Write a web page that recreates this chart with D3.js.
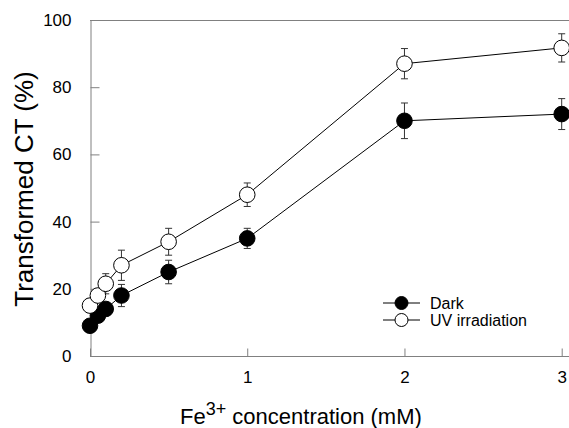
<!DOCTYPE html>
<meta charset="utf-8">
<head>
  <title>Transformed CT vs Fe3+ concentration</title>
</head>
<style>
body { margin: 0; background: #fff; }
text { font-family: "Liberation Sans", Arial, sans-serif; fill: #000; }
.axis path, .axis line { stroke: #808080; }
</style>
<body>
<svg width="569" height="428"></svg>
<script src="https://cdnjs.cloudflare.com/ajax/libs/d3/7.8.5/d3.min.js"></script>
<script>
var width = 569, height = 428

// data
var conc = [0, 0.05, 0.1, 0.2, 0.5, 1, 2, 3]
var dark = [9, 12, 14, 18, 25, 35, 70, 72]
var darkErr = [1.5, 1.5, 2, 3.3, 3.5, 3, 5.3, 4.6]
var uv = [15, 18, 21.5, 27, 34, 48, 87, 91.7]
var uvErr = [2, 2, 3, 4.5, 4, 3.5, 4.5, 4.2]
var xTicks = [0, 1, 2, 3]
var yTicks = [0, 20, 40, 60, 80, 100]

var series = [
  {name: 'Dark', y: dark, err: darkErr, fill: '#000'},
  {name: 'UV irradiation', y: uv, err: uvErr, fill: '#fff'}
]

var mLeft = 90, mRight = 561.7, mTop = 20, mBottom = 356

var x = d3.scaleLinear().domain([0, 3]).range([mLeft, mRight])
var y = d3.scaleLinear().domain([0, 100]).range([mBottom, mTop])

var svg = d3.select('svg')

// top frame line
svg.append('line')
  .attr('x1', mLeft).attr('x2', width)
  .attr('y1', mTop + 0.5).attr('y2', mTop + 0.5)
  .attr('stroke', '#808080')

var xAxis = svg.append('g')
  .attr('class', 'axis')
  .attr('transform', 'translate(0,' + (mBottom + 0.5) + ')')
  .call(d3.axisBottom(x).tickValues(xTicks).tickFormat(d3.format('d'))
    .tickSize(-8).tickSizeOuter(0).tickPadding(14))
xAxis.select('.domain').attr('d', 'M' + mLeft + ',0H' + width)
xAxis.selectAll('text').attr('font-size', 17).attr('font-family', '"Liberation Sans", Arial, sans-serif')

var yAxis = svg.append('g')
  .attr('class', 'axis')
  .attr('transform', 'translate(' + (mLeft + 0.5) + ',0)')
  .call(d3.axisLeft(y).tickValues(yTicks).tickFormat(d3.format('d'))
    .tickSize(-9).tickSizeOuter(0).tickPadding(19))
yAxis.selectAll('text').attr('font-size', 17).attr('font-family', '"Liberation Sans", Arial, sans-serif')

var line = d3.line()
  .x(function(d) { return x(d.x) })
  .y(function(d) { return y(d.y) })

series.forEach(function(s) {
  var pts = conc.map(function(c, i) { return {x: c, y: s.y[i], e: s.err[i]} })
  var g = svg.append('g')

  g.append('path')
    .datum(pts)
    .attr('d', line)
    .attr('fill', 'none')
    .attr('stroke', '#000')
    .attr('stroke-width', 1)

  var eb = g.selectAll('.err').data(pts).enter().append('g')
  eb.append('line')
    .attr('x1', function(d) { return x(d.x) }).attr('x2', function(d) { return x(d.x) })
    .attr('y1', function(d) { return y(d.y + d.e) }).attr('y2', function(d) { return y(d.y - d.e) })
    .attr('stroke', '#333')
  ;[1, -1].forEach(function(sg) {
    eb.append('line')
      .attr('x1', function(d) { return x(d.x) - 3.5 }).attr('x2', function(d) { return x(d.x) + 3.5 })
      .attr('y1', function(d) { return y(d.y + sg * d.e) }).attr('y2', function(d) { return y(d.y + sg * d.e) })
      .attr('stroke', '#333')
  })

  g.selectAll('circle').data(pts).enter().append('circle')
    .attr('cx', function(d) { return x(d.x) })
    .attr('cy', function(d) { return y(d.y) })
    .attr('r', 7.8)
    .attr('fill', s.fill)
    .attr('stroke', '#000')
    .attr('stroke-width', 1)
})

// legend
var legend = svg.append('g')
series.forEach(function(s, i) {
  var ly = 303 + i * 17
  legend.append('line')
    .attr('x1', 383).attr('x2', 420).attr('y1', ly).attr('y2', ly)
    .attr('stroke', '#000')
  legend.append('circle')
    .attr('cx', 401.5).attr('cy', ly).attr('r', 6.5)
    .attr('fill', s.fill).attr('stroke', '#000')
  legend.append('text')
    .attr('x', 430).attr('y', ly + 6)
    .attr('font-size', 16)
    .text(s.name)
})

// axis titles
var xt = svg.append('text')
  .attr('x', 180).attr('y', 424)
  .attr('font-size', 22)
xt.append('tspan').text('Fe')
xt.append('tspan').attr('font-size', 18).attr('dy', -9).text('3+')
xt.append('tspan').attr('dy', 9).text(' concentration (mM)')

svg.append('text')
  .attr('transform', 'translate(33,189) rotate(-90)')
  .attr('text-anchor', 'middle')
  .attr('font-size', 26)
  .text('Transformed CT (%)')
</script>
</body>
